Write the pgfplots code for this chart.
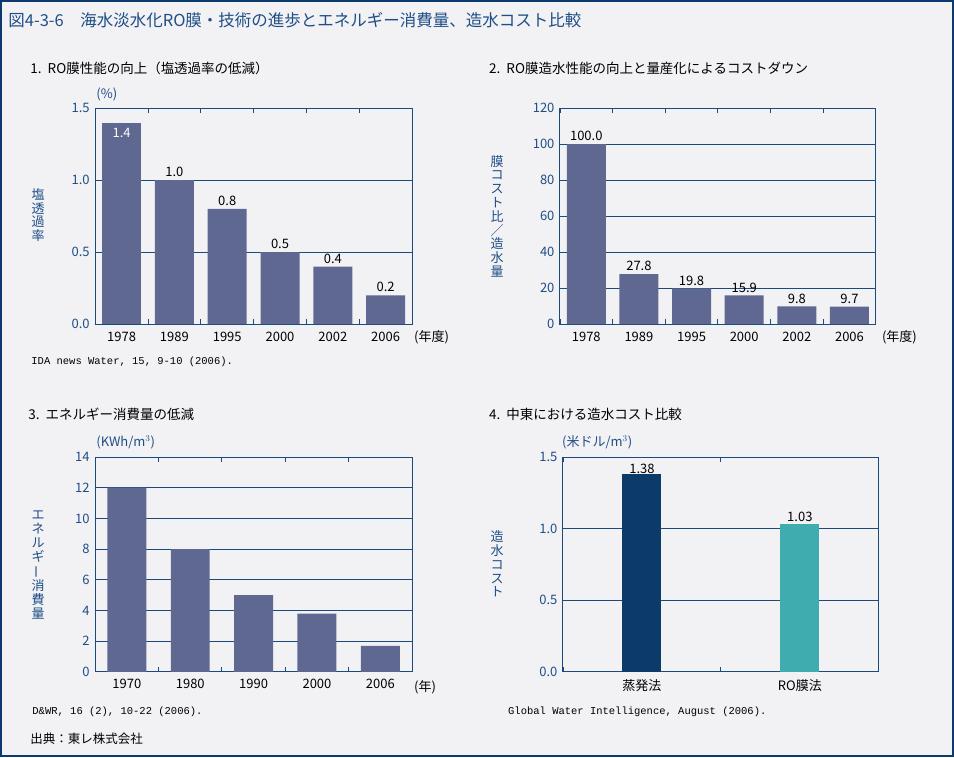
\documentclass[border=0pt]{standalone}
\usepackage{pgfplots}
\pgfplotsset{compat=1.18}
\usepackage{fontspec}
\setmainfont{Noto Sans CJK JP}
\newfontfamily\srcfont{Liberation Mono}
\usepackage{graphicx}
\definecolor{bgc}{HTML}{F2F2F5}
\definecolor{borderc}{HTML}{0B3A6E}
\definecolor{tblue}{HTML}{1F4E86}
\definecolor{gridc}{HTML}{1B4A7D}
\definecolor{barc}{HTML}{5F6890}
\definecolor{navyc}{HTML}{0D3B69}
\definecolor{tealc}{HTML}{3FADAF}
\newcommand{\tf}{\fontsize{13}{13}\selectfont}
\newcommand{\vf}{\fontsize{13}{13.8}\selectfont}
\pgfplotsset{
  /pgf/number format/assume math mode=true,
  panel/.style={
    scale only axis,
    axis line style={gridc, line width=1pt},
    ymin=0,
    ymajorgrids,
    grid style={gridc, line width=0.9pt},
    ybar, bar width=39pt,
    x tick label as interval,
    tick align=inside,
    major tick length=5pt,
    xtick style={gridc, line width=0.9pt},
    ytick style={draw=none},
    xticklabel style={font=\tf, text=black, yshift=-4pt},
    yticklabel style={font=\tf, text=tblue, xshift=-2pt},
    every axis plot/.append style={draw=none, bar shift=0pt},
    nodes near coords style={font=\tf, text=black, inner sep=1pt},
    clip=false,
  },
}
\begin{document}
\begin{tikzpicture}[x=1pt,y=1pt]
\fill[bgc] (0pt,0pt) rectangle (954pt,757pt);
\draw[borderc, line width=2.5pt] (1pt,1pt) rectangle (953pt,756pt);
\node[anchor=west, inner sep=0, text=tblue, font=\fontsize{16.5}{16.5}\selectfont] at (8pt,737pt) {図4-3-6　海水淡水化RO膜・技術の進歩とエネルギー消費量、造水コスト比較};
\node[anchor=west, inner sep=0, font=\fontsize{13.5}{13.5}\selectfont] at (30pt,689pt) {1.\ \ RO膜性能の向上（塩透過率の低減）};
\node[anchor=west, inner sep=0, font=\fontsize{13.5}{13.5}\selectfont] at (489pt,689pt) {2.\ \ RO膜造水性能の向上と量産化によるコストダウン};
\node[anchor=west, inner sep=0, font=\fontsize{13.5}{13.5}\selectfont] at (28pt,343pt) {3.\ \ エネルギー消費量の低減};
\node[anchor=west, inner sep=0, font=\fontsize{13.5}{13.5}\selectfont] at (489pt,343pt) {4.\ \ 中東における造水コスト比較};

% Panel 1
\begin{axis}[panel, at={(95pt,433pt)}, anchor=south west, width=317pt, height=216pt,
  xmin=-0.5, xmax=5.5, ymax=1.5,
  xtick={-0.5,0.5,...,5.5},
  xticklabels={1978,1989,1995,2000,2002,2006},
  ytick={0,0.5,1,1.5},
  yticklabel={\pgfmathprintnumber[fixed,fixed zerofill,precision=1]{\tick}},
  nodes near coords={\pgfmathprintnumber[fixed,fixed zerofill,precision=1]{\pgfplotspointmeta}},
]
\addplot[fill=barc, nodes near coords style={anchor=north, text=white, yshift=-4pt}] coordinates {(0,1.4)};
\addplot[fill=barc, nodes near coords style={yshift=2pt}] coordinates {(1,1.0) (2,0.8) (3,0.5) (4,0.4) (5,0.2)};
\end{axis}

% Panel 2
\begin{axis}[panel, at={(560pt,433pt)}, anchor=south west, width=316pt, height=216pt,
  xmin=-0.5, xmax=5.5, ymax=120,
  xtick={-0.5,0.5,...,5.5},
  xticklabels={1978,1989,1995,2000,2002,2006},
  ytick={0,20,...,120},
  nodes near coords={\pgfmathprintnumber[fixed,fixed zerofill,precision=1]{\pgfplotspointmeta}},
  nodes near coords style={yshift=2pt},
]
\addplot[fill=barc] coordinates {(0,100.0) (1,27.8) (2,19.8) (3,15.9) (4,9.8) (5,9.7)};
\end{axis}

% Panel 3
\begin{axis}[panel, at={(95pt,85pt)}, anchor=south west, width=317pt, height=215pt,
  xmin=-0.5, xmax=4.5, ymax=14,
  xtick={-0.5,0.5,...,4.5},
  xticklabels={1970,1980,1990,2000,2006},
  ytick={0,2,...,14},
]
\addplot[fill=barc] coordinates {(0,12) (1,8) (2,5) (3,3.8) (4,1.7)};
\end{axis}

% Panel 4
\begin{axis}[panel, at={(563pt,85pt)}, anchor=south west, width=316pt, height=215pt,
  xmin=-0.5, xmax=1.5, ymax=1.5,
  xtick={-0.5,0.5,1.5},
  xticklabels={蒸発法,RO膜法},
  ytick={0,0.5,1,1.5},
  yticklabel={\pgfmathprintnumber[fixed,fixed zerofill,precision=1]{\tick}},
  nodes near coords={\pgfmathprintnumber[fixed,fixed zerofill,precision=2]{\pgfplotspointmeta}},
]
\addplot[fill=navyc, nodes near coords style={inner sep=0.5pt}] coordinates {(0,1.38)};
\addplot[fill=tealc, nodes near coords style={yshift=1pt}] coordinates {(1,1.03)};
\end{axis}

% units
\node[anchor=west, inner sep=0, text=tblue, font=\tf] at (96pt,663pt) {(\%)};
\node[anchor=west, inner sep=0, text=tblue, font=\tf] at (96pt,315pt) {(KWh/m$^{3}$)};
\node[anchor=west, inner sep=0, text=tblue, font=\tf] at (562pt,315pt) {(米ドル/m$^{3}$)};
\node[anchor=west, inner sep=0, font=\tf] at (414pt,420pt) {(年度)};
\node[anchor=west, inner sep=0, font=\tf] at (882pt,420pt) {(年度)};
\node[anchor=west, inner sep=0, font=\tf] at (414pt,70pt) {(年)};

% vertical axis titles
\node[align=center, inner sep=0, text=tblue, font=\vf] at (38pt,542pt) {塩\\透\\過\\率};
\node[align=center, inner sep=0, text=tblue, font=\vf] at (497pt,541pt) {膜\\コ\\ス\\ト\\比\\／\\造\\水\\量};
\node[align=center, inner sep=0, text=tblue, font=\vf] at (38pt,192pt) {エ\\ネ\\ル\\ギ\\\rotatebox[origin=c]{90}{ー}\\消\\費\\量};
\node[align=center, inner sep=0, text=tblue, font=\vf] at (497pt,193pt) {造\\水\\コ\\ス\\ト};

% sources
\node[anchor=west, inner sep=0, font=\srcfont\fontsize{10.5}{10.5}\selectfont] at (31pt,395pt) {IDA news Water, 15, 9-10 (2006).};
\node[anchor=west, inner sep=0, font=\srcfont\fontsize{10.5}{10.5}\selectfont] at (32pt,45pt) {D\&WR, 16 (2), 10-22 (2006).};
\node[anchor=west, inner sep=0, font=\srcfont\fontsize{10.5}{10.5}\selectfont] at (508pt,45pt) {Global Water Intelligence, August (2006).};
\node[anchor=west, inner sep=0, font=\fontsize{12.5}{12.5}\selectfont] at (30pt,18pt) {出典：東レ株式会社};
\end{tikzpicture}
\end{document}
